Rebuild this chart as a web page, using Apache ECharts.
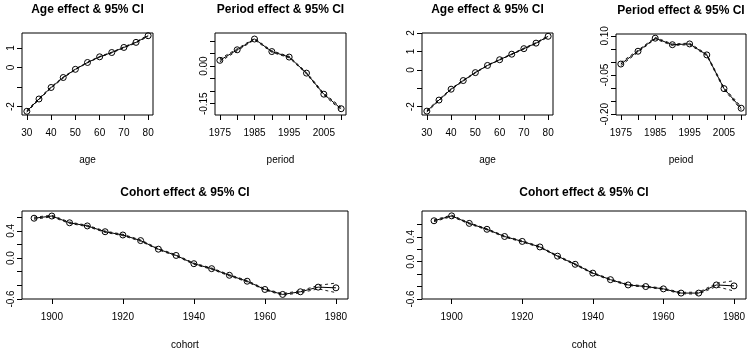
<!DOCTYPE html>
<html>
<head>
<meta charset="utf-8">
<script src="https://cdn.jsdelivr.net/npm/echarts@6/dist/echarts.min.js"></script>
<style>
  html, body { margin: 0; padding: 0; background: #fff; }
  #chart { width: 750px; height: 352px; }
</style>
</head>
<body>
<div id="chart"></div>
<script>
// x values
const ageX = [30, 35, 40, 45, 50, 55, 60, 65, 70, 75, 80];
const periodX = [1975, 1980, 1985, 1990, 1995, 2000, 2005, 2010];
const cohortX = [1895, 1900, 1905, 1910, 1915, 1920, 1925, 1930, 1935, 1940,
  1945, 1950, 1955, 1960, 1965, 1970, 1975, 1980];

// left figure
const ageEstA = [-2.24, -1.61, -1.02, -0.51, -0.09, 0.26, 0.55, 0.77, 1.03, 1.29, 1.63];
const ageLoA = [-2.29, -1.65, -1.05, -0.54, -0.11, 0.24, 0.53, 0.75, 1.00, 1.26, 1.59];
const ageHiA = [-2.19, -1.57, -0.99, -0.48, -0.07, 0.28, 0.57, 0.79, 1.06, 1.32, 1.67];

const periodEstA = [0.023, 0.065, 0.108, 0.058, 0.036, -0.028, -0.112, -0.170];
const periodLoA = [0.017, 0.061, 0.105, 0.055, 0.033, -0.031, -0.116, -0.176];
const periodHiA = [0.029, 0.069, 0.111, 0.061, 0.039, -0.025, -0.108, -0.164];

const cohortEstA = [0.585, 0.617, 0.518, 0.472, 0.387, 0.339, 0.257, 0.131, 0.039, -0.082,
  -0.155, -0.252, -0.339, -0.460, -0.533, -0.494, -0.426, -0.436];
const cohortLoA = [0.570, 0.605, 0.508, 0.462, 0.377, 0.329, 0.247, 0.121, 0.029, -0.092,
  -0.165, -0.262, -0.349, -0.470, -0.545, -0.509, -0.451, -0.506];
const cohortHiA = [0.600, 0.629, 0.528, 0.482, 0.397, 0.349, 0.267, 0.141, 0.049, -0.072,
  -0.145, -0.242, -0.329, -0.450, -0.521, -0.479, -0.401, -0.366];

// right figure
const ageEstB = [-2.24, -1.64, -1.05, -0.58, -0.15, 0.24, 0.55, 0.85, 1.15, 1.45, 1.82];
const ageLoB = [-2.29, -1.68, -1.08, -0.61, -0.17, 0.22, 0.53, 0.83, 1.12, 1.42, 1.78];
const ageHiB = [-2.19, -1.60, -1.02, -0.55, -0.13, 0.26, 0.57, 0.87, 1.18, 1.48, 1.86];

const periodEstB = [-0.008, 0.041, 0.091, 0.066, 0.069, 0.027, -0.102, -0.177];
const periodLoB = [-0.014, 0.037, 0.088, 0.063, 0.066, 0.024, -0.106, -0.183];
const periodHiB = [-0.002, 0.045, 0.094, 0.069, 0.072, 0.030, -0.098, -0.171];

const cohortEstB = [0.658, 0.737, 0.616, 0.521, 0.405, 0.326, 0.237, 0.089, -0.042, -0.184,
  -0.289, -0.374, -0.400, -0.437, -0.505, -0.505, -0.374, -0.389];
const cohortLoB = [0.643, 0.725, 0.606, 0.511, 0.395, 0.316, 0.227, 0.079, -0.052, -0.194,
  -0.299, -0.384, -0.410, -0.447, -0.517, -0.520, -0.399, -0.472];
const cohortHiB = [0.673, 0.749, 0.626, 0.531, 0.415, 0.336, 0.247, 0.099, -0.032, -0.174,
  -0.279, -0.364, -0.390, -0.427, -0.493, -0.490, -0.349, -0.306];

// tick marks and labels
const ageTicks = [30, 40, 50, 60, 70, 80];
const periodTicks = [1975, 1980, 1985, 1990, 1995, 2000, 2005, 2010];
const periodLabels = [1975, 1985, 1995, 2005];
const cohortTicks = [1900, 1920, 1940, 1960, 1980];

const ageYTicksA = [-2, -1, 0, 1];
const ageYLabelsA = [-2, 0, 1];
const periodYTicksA = [-0.15, -0.10, -0.05, 0, 0.05, 0.10];
const periodYLabelsA = [-0.15, 0];
const ageYTicksB = [-2, -1, 0, 1, 2];
const ageYLabelsB = [-2, 0, 1, 2];
const periodYTicksB = [-0.20, -0.15, -0.10, -0.05, 0, 0.05, 0.10];
const periodYLabelsB = [-0.20, -0.05, 0.10];
const cohortYTicks = [-0.6, -0.4, -0.2, 0, 0.2, 0.4, 0.6];
const cohortYLabels = [-0.6, 0, 0.4];

const panels = [
  { title: 'Age effect & 95% CI', name: 'age', box: [22, 33, 131, 82],
    x: ageX, est: ageEstA, lo: ageLoA, hi: ageHiA, xr: [28, 82], yr: [-2.43, 1.77],
    xt: ageTicks, xl: ageTicks, yt: ageYTicksA, yl: ageYLabelsA, dec: 0 },
  { title: 'Period effect & 95% CI', name: 'period', box: [215, 33, 131, 82],
    x: periodX, est: periodEstA, lo: periodLoA, hi: periodHiA, xr: [1973.6, 2011.4], yr: [-0.195, 0.132],
    xt: periodTicks, xl: periodLabels, yt: periodYTicksA, yl: periodYLabelsA, dec: 2 },
  { title: 'Age effect & 95% CI', name: 'age', box: [422, 33, 131, 82],
    x: ageX, est: ageEstB, lo: ageLoB, hi: ageHiB, xr: [28, 82], yr: [-2.45, 2.0],
    xt: ageTicks, xl: ageTicks, yt: ageYTicksB, yl: ageYLabelsB, dec: 0 },
  { title: 'Period effect & 95% CI', name: 'peiod', box: [616, 34, 130, 81],
    x: periodX, est: periodEstB, lo: periodLoB, hi: periodHiB, xr: [1973.6, 2011.4], yr: [-0.203, 0.107],
    xt: periodTicks, xl: periodLabels, yt: periodYTicksB, yl: periodYLabelsB, dec: 2 },
  { title: 'Cohort effect & 95% CI', name: 'cohort', box: [22, 211, 326, 88],
    x: cohortX, est: cohortEstA, lo: cohortLoA, hi: cohortHiA, xr: [1891.6, 1983.4], yr: [-0.6, 0.691],
    xt: cohortTicks, xl: cohortTicks, yt: cohortYTicks, yl: cohortYLabels, dec: 1 },
  { title: 'Cohort effect & 95% CI', name: 'cohot', box: [422, 211, 324, 88],
    x: cohortX, est: cohortEstB, lo: cohortLoB, hi: cohortHiB, xr: [1891.6, 1983.4], yr: [-0.6, 0.815],
    xt: cohortTicks, xl: cohortTicks, yt: cohortYTicks, yl: cohortYLabels, dec: 1 }
];

const FONT = '"Liberation Sans", Helvetica, Arial, sans-serif';
const grid = [], xAxis = [], yAxis = [], title = [], series = [];

panels.forEach((p, i) => {
  const [left, top, width, height] = p.box;
  const small = i < 4;
  grid.push({ left, top, width, height, show: true, borderColor: '#000', borderWidth: 1,
    backgroundColor: 'transparent' });

  title.push({
    text: p.title, left: left + width / 2, top: top - (small ? 29 : 24), textAlign: 'center', padding: 0,
    textStyle: { fontFamily: FONT, fontSize: 12, fontWeight: 'bold', color: '#000' }
  });

  xAxis.push({
    type: 'value', gridIndex: i, min: p.xr[0], max: p.xr[1],
    splitLine: { show: false }, axisLine: { show: false, onZero: false },
    axisTick: { show: true, inside: false, length: 5, customValues: p.xt,
      lineStyle: { color: '#000', width: 1 } },
    axisLabel: { customValues: p.xl, margin: 13, fontSize: 10, color: '#000', fontFamily: FONT,
      formatter: v => String(v) },
    name: p.name, nameLocation: 'middle', nameGap: small ? 40 : 41,
    nameTextStyle: { fontSize: 10, color: '#000', fontFamily: FONT }
  });

  yAxis.push({
    type: 'value', gridIndex: i, min: p.yr[0], max: p.yr[1],
    splitLine: { show: false }, axisLine: { show: false, onZero: false },
    axisTick: { show: true, inside: false, length: 5, customValues: p.yt,
      lineStyle: { color: '#000', width: 1 } },
    axisLabel: { customValues: p.yl, rotate: 90, margin: 6, fontSize: 10, color: '#000',
      fontFamily: FONT, formatter: v => Number(v).toFixed(p.dec) }
  });

  const pairs = arr => p.x.map((x, k) => [x, arr[k]]);
  [p.lo, p.hi].forEach(ci => {
    series.push({
      type: 'line', xAxisIndex: i, yAxisIndex: i, data: pairs(ci), symbol: 'none',
      lineStyle: { color: '#222', width: 1, type: [3, 3] }, z: 2
    });
  });
  series.push({
    type: 'line', xAxisIndex: i, yAxisIndex: i, data: pairs(p.est),
    symbol: 'circle', symbolSize: 6,
    lineStyle: { color: '#000', width: 1 },
    itemStyle: { color: 'rgba(255,255,255,0)', borderColor: '#000', borderWidth: 1 }, z: 3
  });
});

const chart = echarts.init(document.getElementById('chart'));
chart.setOption({
  animation: false,
  backgroundColor: '#fff',
  textStyle: { fontFamily: FONT },
  title, grid, xAxis, yAxis, series
});
window.addEventListener('resize', () => chart.resize());
</script>
</body>
</html>
